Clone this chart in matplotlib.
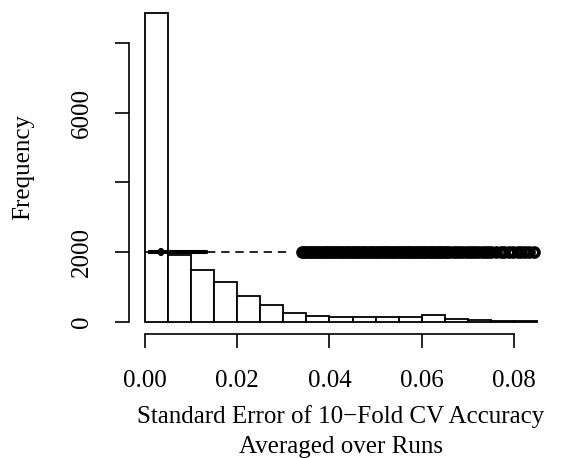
import numpy as np
import matplotlib
matplotlib.use("Agg")
import matplotlib.pyplot as plt

plt.rcParams['font.family'] = ['Liberation Serif', 'DejaVu Serif']

# histogram: bins of width 0.005 from 0 to 0.085
bin_edges = [0.000, 0.005, 0.010, 0.015, 0.020, 0.025, 0.030, 0.035, 0.040,
             0.045, 0.050, 0.055, 0.060, 0.065, 0.070, 0.075, 0.080, 0.085]
counts = [8860, 1915, 1485, 1140, 745, 470, 240, 165, 125,
          125, 125, 125, 193, 70, 40, 10, 30]

# boxplot summary (drawn at y = 2000)
box_at = 2000
box_lo, box_q1, box_med, box_q3, box_hi = 0.0, 0.0009, 0.0035, 0.0134, 0.0318
outliers = [
    0.0340, 0.0345, 0.0350, 0.0355, 0.0360, 0.0365, 0.0370, 0.0375, 0.0380, 0.0385,
    0.0390, 0.0395, 0.0400, 0.0405, 0.0410, 0.0415, 0.0420, 0.0425, 0.0430, 0.0435,
    0.0440, 0.0445, 0.0450, 0.0455, 0.0460, 0.0465, 0.0470, 0.0475, 0.0480, 0.0485,
    0.0490, 0.0495, 0.0500, 0.0505, 0.0510, 0.0515, 0.0520, 0.0525, 0.0530, 0.0535,
    0.0540, 0.0545, 0.0550, 0.0555, 0.0560, 0.0565, 0.0570, 0.0575, 0.0580, 0.0585,
    0.0590, 0.0595, 0.0600, 0.0605, 0.0610, 0.0615, 0.0620, 0.0625, 0.0630, 0.0635,
    0.0640, 0.0645, 0.0650, 0.0655, 0.0660, 0.0667, 0.0674, 0.0681, 0.0688, 0.0695,
    0.0702, 0.0709, 0.0716, 0.0723, 0.0730, 0.0737, 0.0744, 0.0751, 0.0760, 0.0771,
    0.0779, 0.0790, 0.0798, 0.0808, 0.0815, 0.0824, 0.0833, 0.0843,
]

x_ticks = [0.00, 0.02, 0.04, 0.06, 0.08]
x_labels = ['0.00', '0.02', '0.04', '0.06', '0.08']
y_ticks = [0, 2000, 4000, 6000, 8000]
y_labels = ['0', '2000', '', '6000', '']

W, H = 564, 458
fs = 18
fig = plt.figure(figsize=(W / 100, H / 100), dpi=100)
ax = fig.add_axes([129.3 / W, 1 - 334 / H, (552.7 - 129.3) / W, 333 / H])

widths = np.diff(bin_edges)
ax.bar(bin_edges[:-1], counts, width=widths, align='edge',
       facecolor='white', edgecolor='black', linewidth=1.3)

stats = [dict(med=box_med, q1=box_q1, q3=box_q3, whislo=box_lo, whishi=box_hi,
              fliers=outliers)]
ax.bxp(stats, positions=[box_at], widths=40, vert=False, showcaps=False,
       boxprops=dict(color='black', linewidth=1.5),
       whiskerprops=dict(color='black', linewidth=1.2, linestyle=(0, (5, 3.5))),
       medianprops=dict(color='black', linewidth=4.5, solid_capstyle='round'),
       flierprops=dict(marker='o', markersize=6.4, markerfacecolor='none',
                       markeredgecolor='black', markeredgewidth=2.7))

ax.set_xlim(-0.0034, 0.0884)
ax.set_ylim(-354, 9216)

for s in ['top', 'right']:
    ax.spines[s].set_visible(False)
ax.spines['bottom'].set_bounds(0, 0.08)
ax.spines['left'].set_bounds(0, 8000)
ax.spines['bottom'].set_linewidth(1.2)
ax.spines['left'].set_linewidth(1.2)

ax.set_xticks(x_ticks)
ax.set_xticklabels(x_labels)
ax.set_yticks(y_ticks)
ax.set_yticklabels(y_labels, rotation=90, va='center')
ax.tick_params(axis='both', direction='out', length=10, width=1.2, labelsize=fs)
ax.tick_params(axis='x', pad=16)
ax.tick_params(axis='y', pad=16)

fig.text(341 / W, 1 - 417 / H, 'Standard Error of 10\u2212Fold CV Accuracy',
         ha='center', va='center', fontsize=fs)
fig.text(341 / W, 1 - 447 / H, 'Averaged over Runs',
         ha='center', va='center', fontsize=fs)
fig.text(23 / W, 1 - 167.5 / H, 'Frequency', rotation=90,
         ha='center', va='center', fontsize=fs)

fig.savefig('out.png', dpi=100)
